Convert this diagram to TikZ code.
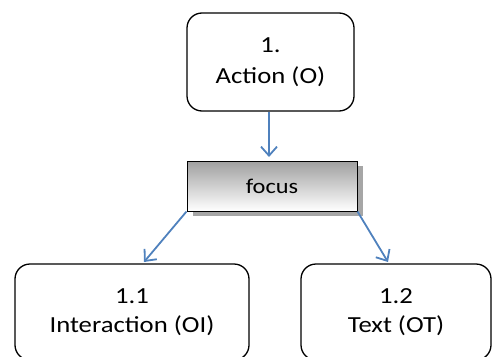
\documentclass[tikz,border=0pt]{standalone}
\usepackage{fontspec}
\setmainfont{Carlito}[FakeStretch=1.16]
\usetikzlibrary{arrows.meta,shadows}
\tikzset{
  box/.style={draw=black, line width=1.3pt, rounded corners=15pt, fill=white,
    align=center, font=\fontsize{23}{31}\selectfont, inner sep=0pt},
  focusbox/.style={draw=black, line width=1pt, top color=gray!75, bottom color=white,
    font=\fontsize{21}{24}\selectfont, minimum width=170pt, minimum height=50pt, inner sep=0pt,
    drop shadow={shadow xshift=6pt, shadow yshift=-5pt, fill=gray!70, opacity=1}},
  link/.style={draw={rgb,255:red,79;green,129;blue,189}, line width=1.8pt,
    -{Straight Barb[length=9pt, width=16pt, line width=1.8pt]}}
}
\begin{document}
\begin{tikzpicture}[x=1pt, y=-1pt]
\useasboundingbox (0,0) rectangle (492,356);
\begin{scope}
\clip (0,0) rectangle (492,356);
\node[box, minimum width=167pt, minimum height=98pt] (act) at (270.5,62) {1.\\Action (O)};
\node[focusbox] (foc) at (272,186) {focus};
\node[box, minimum width=234pt, minimum height=96pt] (inter) at (132,312) {1.1\\[-2pt]Interaction (OI)};
\node[box, minimum width=190pt, minimum height=96pt] (txt) at (396,312) {1.2\\[-2pt]Text (OT)};
\end{scope}
\coordinate (a1) at (269,157);
\coordinate (a2) at (144,262);
\coordinate (a3) at (388,262);
\draw[link] (act.south -| a1) -- (a1);
\draw[link] (foc.south west) -- (a2);
\draw[link] (foc.south east) -- (a3);
\end{tikzpicture}
\end{document}
